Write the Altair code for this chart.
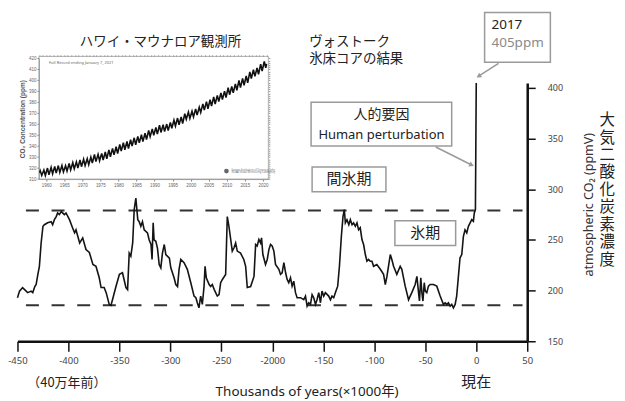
import altair as alt
import pandas as pd

# ---------------- Vostok ice core (thousands of years, ppmV) ----------------
vostok_kyr = [
    -450, -448, -445, -443, -440, -436.6, -435, -433, -431.7, -430,
    -428.5, -426.8, -425, -423.6, -420.4, -417, -415.5, -413.8, -412, -410.6,
    -409, -407, -404, -402.4, -399, -396, -394, -392.6, -389, -386,
    -382.8, -379.5, -376, -373, -369.8, -368, -365, -363, -360, -358.3,
    -356.8, -353.4, -350, -347, -345, -343.6, -342, -340.4, -338.8, -337,
    -335.5, -333.9, -332, -330.6, -329, -327.4, -325.7, -322.5, -320.8, -319,
    -318, -316.9, -316, -314.3, -312.7, -311, -309.4, -307.8, -306, -304.5,
    -301, -299.6, -296.4, -294.7, -293, -291.5, -289.8, -286.6, -283.4, -280,
    -276.8, -275, -273.6, -272, -270.3, -268.7, -267, -266, -264.8, -262,
    -260.5, -258.9, -257, -254, -252.3, -250.7, -249, -245.8, -244.2, -242.6,
    -239.3, -237.7, -236, -234.4, -231.2, -228, -226.2, -224.6, -221.3, -218,
    -216.4, -214.9, -213.2, -211.5, -210.6, -209.3, -206.7, -205, -203.4, -201.8,
    -200.2, -198.5, -196.9, -193.6, -192, -190.4, -188.7, -187, -185.5, -183.9,
    -182.2, -180.6, -179, -177.3, -175.7, -172.4, -169.2, -167.5, -165.9, -164.3,
    -162.6, -161, -159.4, -157.7, -156.2, -154.5, -152.8, -151.3, -149.6, -148,
    -144.7, -143, -141.5, -139.8, -137.6, -135.9, -134.2, -132.3, -130.7, -129.4,
    -128.4, -126.8, -125, -123.5, -121.8, -120.3, -118.6, -117, -115.4, -113.8,
    -112.1, -110.5, -108.8, -107.2, -105.6, -104, -102.3, -100.7, -97.5, -94.1,
    -90.9, -89.2, -87.6, -84.3, -82.8, -81.1, -77.9, -74.6, -73, -69.7,
    -66.4, -64.8, -63.2, -59.9, -58.2, -56.6, -55.7, -54.4, -53.3, -52.3,
    -51, -50, -48.5, -46.9, -45.2, -42, -38.7, -35.4, -32.2, -30.5,
    -28.9, -27.3, -25.6, -24, -22.4, -20.7, -19.2, -17.5, -15.9, -14.2,
    -12.6, -11, -9.3, -7.7, -6, -4.4, -2.8, -1.9, -0.8, 0,
]
vostok_co2 = [
    193, 199.5, 203, 201, 198, 199.5, 198, 204, 206, 216,
    224, 247, 263.5, 265, 267, 268, 265, 270, 273, 276.6,
    275, 278, 275, 276.6, 270, 262, 257, 260, 247, 252,
    240.5, 237.6, 225.8, 224, 212.7, 203, 203, 198, 186.4, 185.4,
    191, 204, 216, 217.6, 209, 203, 201, 237, 234, 247,
    280, 291.4, 270, 268, 263.5, 268, 260, 257, 250, 245.5,
    230.7, 267, 250, 248.7, 242, 225.8, 222.5, 237, 245.5, 235.6,
    232, 222.5, 212.7, 206, 204, 221, 230.7, 227.5, 221, 207.8,
    194.6, 193, 188, 183, 194.6, 186.4, 204, 224, 212.7, 206,
    204, 206, 201, 194.6, 196, 207.8, 211, 216, 273, 263.5,
    239, 242, 247, 239, 237, 230.7, 224, 203, 204, 214,
    245.5, 244, 250.4, 247, 252, 235.6, 225.8, 230.7, 240.5, 245.5,
    244, 239, 225.8, 221, 216, 217.6, 227.5, 217.6, 211, 207.8,
    212.7, 204.4, 209.3, 198, 193, 193, 191, 194.6, 184.7, 188,
    186.4, 196, 193, 186.4, 191, 198, 188, 199.5, 194.6, 198,
    194.6, 191, 194.6, 193, 199.5, 204.4, 224, 253.6, 273, 280,
    266.8, 270, 265, 270, 265, 266.8, 263.5, 266.8, 260, 262,
    250.4, 245.5, 235.6, 229, 230.7, 229, 229, 224, 225.8, 221,
    216, 206, 214, 235.6, 230.7, 224, 216, 224, 221, 204.4,
    191, 194.6, 198, 206, 214, 198, 189.7, 212.7, 198, 189.7,
    207.8, 199.5, 198, 204.4, 206, 206, 204.4, 194.6, 186.4, 188,
    186.4, 188, 184.7, 186.4, 183, 186.4, 194.6, 214, 232.4, 235.6,
    253.6, 260, 257, 263.5, 266.8, 270, 268.4, 276.6, 280, 405,
]

# reference levels (dashed)
level_values = [279, 185.5]
level_start, level_end = -441.7, 45.4

# main axes
x_ticks = [-450, -400, -350, -300, -250, -200, -150, -100, -50, 0, 50]
x_tick_labels = ["-450", "-400", "-350", "-300", "-250", "-2000",
                 "-150", "-100", "-50", "0", "50"]
y_ticks = [150, 200, 250, 300, 350, 400]

# ---------------- Mauna Loa inset (ppm) ----------------
ml_years = list(range(1958, 2021))
ml_peak = [317.5, 318.3, 320.0, 320.6, 321.5, 322.3, 322.3, 322.2, 324.2, 324.9,
           325.6, 327.4, 328.1, 328.6, 330.0, 332.4, 332.5, 333.4, 334.7, 336.6,
           337.9, 339.5, 341.5, 343.1, 344.2, 345.9, 347.6, 348.9, 350.4, 351.8,
           354.2, 355.7, 357.0, 359.1, 359.5, 360.1, 361.7, 363.6, 365.6, 366.7,
           369.5, 371.1, 371.8, 374.0, 375.5, 378.5, 380.6, 382.3, 384.8, 386.3,
           388.5, 390.1, 393.2, 394.3, 396.8, 399.8, 401.8, 403.9, 407.7, 409.7,
           411.2, 414.7, 417.3]
ml_trough = [313.3, 313.3, 313.8, 314.8, 315.4, 316.1, 316.5, 317.3, 318.3, 319.3,
             320.1, 321.3, 322.3, 323.1, 324.6, 325.9, 326.7, 327.4, 328.5, 330.3,
             332.0, 333.3, 335.5, 336.7, 337.8, 340.0, 341.3, 343.0, 344.1, 346.0,
             348.7, 349.9, 350.9, 352.5, 353.3, 354.1, 356.3, 358.3, 359.5, 360.6,
             364.5, 365.3, 366.7, 368.3, 370.7, 372.8, 374.1, 376.6, 378.4, 380.7,
             382.5, 384.3, 386.9, 388.6, 390.9, 393.3, 395.4, 397.7, 401.6, 403.6,
             405.5, 408.5, 411.3]
ml_first = (1958.2, 315.7)
ml_last = (2021.0, 415.0)
ml_x_ticks = [1960, 1965, 1970, 1975, 1980, 1985, 1990, 1995, 2000, 2005, 2010, 2015, 2020]
ml_y_ticks = [310, 320, 330, 340, 350, 360, 370, 380, 390, 400, 410, 420]

# ---------------- fonts ----------------
JP = '"Noto Sans CJK JP"'
LAT = '"Noto Sans", "Noto Sans CJK JP"'

# ---------------- main scales / axes ----------------
xs = alt.Scale(domain=[-450, 50], nice=False, zero=False)
ys = alt.Scale(domain=[150, 405], nice=False, zero=False)
label_expr = " : ".join(f"datum.value == {v} ? '{l}'" for v, l in zip(x_ticks, x_tick_labels)) + " : datum.label"
x_axis = alt.Axis(orient="bottom", values=x_ticks, labelExpr=label_expr, domainWidth=2.5,
                  domainColor="#111", tickColor="#111", tickWidth=1.5, tickSize=10,
                  labelFontSize=9.5, labelColor="#444", labelPadding=4, labelFont=LAT,
                  title=None, grid=False, labelFlush=False, labelOverlap=False)
y_axis = alt.Axis(orient="right", values=y_ticks, domainWidth=2.5, domainColor="#111",
                  tickColor="#111", tickWidth=1.5, tickSize=8, labelFontSize=9,
                  labelColor="#444", labelPadding=12, labelFont=LAT, title=None,
                  grid=False, labelFlush=False)


def mx(f="t"):
    return alt.X(f"{f}:Q", scale=xs, axis=x_axis)


def my(f="v"):
    return alt.Y(f"{f}:Q", scale=ys, axis=y_axis)


# dashed levels
levels_df = pd.DataFrame({"t": [level_start] * 2, "t2": [level_end] * 2, "v": level_values})
levels = alt.Chart(levels_df).mark_rule(color="#333", strokeWidth=2, strokeDash=[13, 12.7]).encode(
    x=mx(), x2="t2:Q", y=my())

# curve
vostok_df = pd.DataFrame({"t": vostok_kyr, "v": vostok_co2, "o": range(len(vostok_kyr))})
curve = alt.Chart(vostok_df).mark_line(color="#141414", strokeWidth=1.6).encode(
    x=mx(), y=my(), order="o:Q")

# annotation boxes
box_df = pd.DataFrame({
    "t": [8.2, -162, -161, -79.8],
    "t2": [72.7, -24.1, -88.6, -20.2],
    "v": [474.5, 386, 322.1, 269],
    "v2": [425.3, 342.7, 297.5, 244.4],
})
boxes = alt.Chart(box_df).mark_rect(fill="white", stroke="#9a9a9a", strokeWidth=1.5).encode(
    x=mx(), x2="t2:Q", y=my(), y2="v2:Q")

# arrows
arrow_df = pd.DataFrame({
    "id": [1, 1, 2, 2],
    "o": [0, 1, 0, 1],
    "t": [21.9, 2.3, -39.7, -4.5],
    "v": [424.3, 411.6, 341.7, 324],
})
arrow_lines = alt.Chart(arrow_df).mark_line(color="#9a9a9a", strokeWidth=1.5).encode(
    x=mx(), y=my(), detail="id:N", order="o:Q")
head_df = pd.DataFrame({"t": [2.3, -4.5], "v": [411.6, 324], "ang": [237, 115]})
arrow_heads = alt.Chart(head_df).mark_point(shape="triangle-up", filled=True, size=30,
                                            color="#9a9a9a", opacity=1).encode(
    x=mx(), y=my(), angle=alt.Angle("ang:Q", scale=None))


def text_layer(t, v, labels, **kw):
    df = pd.DataFrame({"t": t, "v": v, "label": labels})
    return alt.Chart(df).mark_text(**kw).encode(x=mx(), y=my(), text="label:N")


texts = [
    text_layer([-309.7], [445], ["ハワイ・マウナロア観測所"], font=JP, fontSize=13.5, color="#222"),
    text_layer([-163.9, -163.9], [445, 428.3], ["ヴォストーク", "氷床コアの結果"], font=JP,
               fontSize=13.5, color="#222", align="left"),
    text_layer([15], [461.7], ["2017"], font=LAT, fontSize=13.5, color="#222", align="left"),
    text_layer([15], [444], ["405ppm"], font=LAT, fontSize=13.5, color="#8a8a8a", align="left"),
    text_layer([-93], [373.2], ["人的要因"], font=JP, fontSize=14, color="#222"),
    text_layer([-93], [353.5], ["Human perturbation"], font=LAT, fontSize=13, color="#222"),
    text_layer([-124.8], [309.8], ["間氷期"], font=JP, fontSize=15, color="#222"),
    text_layer([-50], [256.7], ["氷期"], font=JP, fontSize=15, color="#222"),
    text_layer([110.9], [284.7], ["atmospheric CO₂ (ppmV)"], font=LAT, fontSize=12.5,
               color="#333", angle=270),
    text_layer([128.5], [375.2], ["大\n気\n二\n酸\n化\n炭\n素\n濃\n度"], font=JP, fontSize=15.5,
               lineHeight=17.5, lineBreak="\n", baseline="top", color="#222"),
    text_layer([-401.6], [108.7], ["（40万年前）"], font=JP, fontSize=13, color="#222"),
    text_layer([-165.9], [99.9], ["Thousands of years(×1000年)"], font=LAT, fontSize=13.5,
               color="#222"),
    text_layer([0], [109.7], ["現在"], font=JP, fontSize=15, color="#222"),
]

main = alt.layer(levels, curve, boxes, arrow_lines, arrow_heads, *texts)

# ---------------- inset ----------------
ixs = alt.Scale(domain=[1958, 2021.5], range=[21.5, 251.5], nice=False, zero=False)
iys = alt.Scale(domain=[310, 420], range=[96.4, -24.6], nice=False, zero=False)
ix_axis = alt.Axis(orient="bottom", offset=-162.6, values=ml_x_ticks, format="d",
                   labelFontSize=4.5, tickSize=2, domainColor="#888", domainWidth=0.8,
                   tickColor="#888", labelColor="#666", labelPadding=1, title=None,
                   grid=False, labelFlush=False)
iy_axis = alt.Axis(orient="left", offset=-21.5, values=ml_y_ticks, labelFontSize=4.5,
                   tickSize=2, domainColor="#888", domainWidth=0.8, tickColor="#888",
                   labelColor="#666", labelPadding=1, title="CO₂ Concentration (ppm)",
                   titleFontSize=6.5, titleFontWeight="bold", titleColor="#555",
                   titlePadding=3, grid=False, labelFlush=False)


def ix(f="yr"):
    return alt.X(f"{f}:Q", scale=ixs, axis=ix_axis)


def iy(f="ppm"):
    return alt.Y(f"{f}:Q", scale=iys, axis=iy_axis)


ml_x, ml_y = [ml_first[0]], [ml_first[1]]
for yr, pk, tr in zip(ml_years, ml_peak, ml_trough):
    ml_x += [yr + 0.37, yr + 0.78]
    ml_y += [pk, tr]
ml_x.append(ml_last[0])
ml_y.append(ml_last[1])
ml_df = pd.DataFrame({"yr": ml_x, "ppm": ml_y, "o": range(len(ml_x))})

frame = alt.Chart(pd.DataFrame({"yr": [1958], "yr2": [2021.5], "ppm": [310], "ppm2": [421.8]})).mark_rect(
    fill="white", fillOpacity=0, stroke="#999", strokeWidth=0.8).encode(
    x=ix(), x2="yr2:Q", y=iy(), y2="ppm2:Q")
ml_line = alt.Chart(ml_df).mark_line(color="#111", strokeWidth=1.6).encode(
    x=ix(), y=iy(), order="o:Q")
ml_note = alt.Chart(pd.DataFrame({"yr": [1960.8], "ppm": [415.5],
                                  "label": ["Full Record ending January 7, 2021"]})).mark_text(
    font=LAT, fontSize=4, color="#666", align="left").encode(x=ix(), y=iy(), text="label:N")
ml_logo = alt.Chart(pd.DataFrame({"yr": [2009.9], "ppm": [317.3]})).mark_point(
    filled=True, size=22, color="#666", opacity=1).encode(x=ix(), y=iy())
ml_logo_txt = alt.Chart(pd.DataFrame({"yr": [2011.3, 2011.3], "ppm": [318.6, 316],
                                      "label": ["Scripps Institution of Oceanography",
                                                "NOAA Global Monitoring Laboratory"]})).mark_text(
    font=LAT, fontSize=2.6, color="#777", align="left").encode(x=ix(), y=iy(), text="label:N")

inset = alt.layer(frame, ml_line, ml_note, ml_logo, ml_logo_txt)

# top / right minor-tick edges of the inset
ixs2 = alt.Scale(domain=[1958, 2021.5], range=[21.5, 251.5], nice=False, zero=False)
iys2 = alt.Scale(domain=[310, 420], range=[96.4, -24.6], nice=False, zero=False)
edges = alt.Chart(ml_df).mark_point(opacity=0).encode(
    x=alt.X("yr:Q", scale=ixs2, axis=alt.Axis(orient="top", offset=26.6, values=list(range(1958, 2022)),
                                              labels=False, tickSize=1.5, domain=False,
                                              tickColor="#999", title=None, grid=False)),
    y=alt.Y("ppm:Q", scale=iys2, axis=alt.Axis(orient="right", offset=-259.5,
                                               values=list(range(310, 422, 2)), labels=False,
                                               tickSize=1.5, domain=False, tickColor="#999",
                                               title=None, grid=False)),
)

chart = alt.layer(main, inset, edges).resolve_scale(
    x="independent", y="independent"
).properties(
    width=511, height=259,
    padding={"left": 9.5, "top": 74.6, "right": 90, "bottom": 59},
    autosize=alt.AutoSizeParams(type="none"),
    background="white",
).configure_view(strokeWidth=0).configure_axis(grid=False)

chart.save("out.html", embed_options={"renderer": "svg", "actions": False})
